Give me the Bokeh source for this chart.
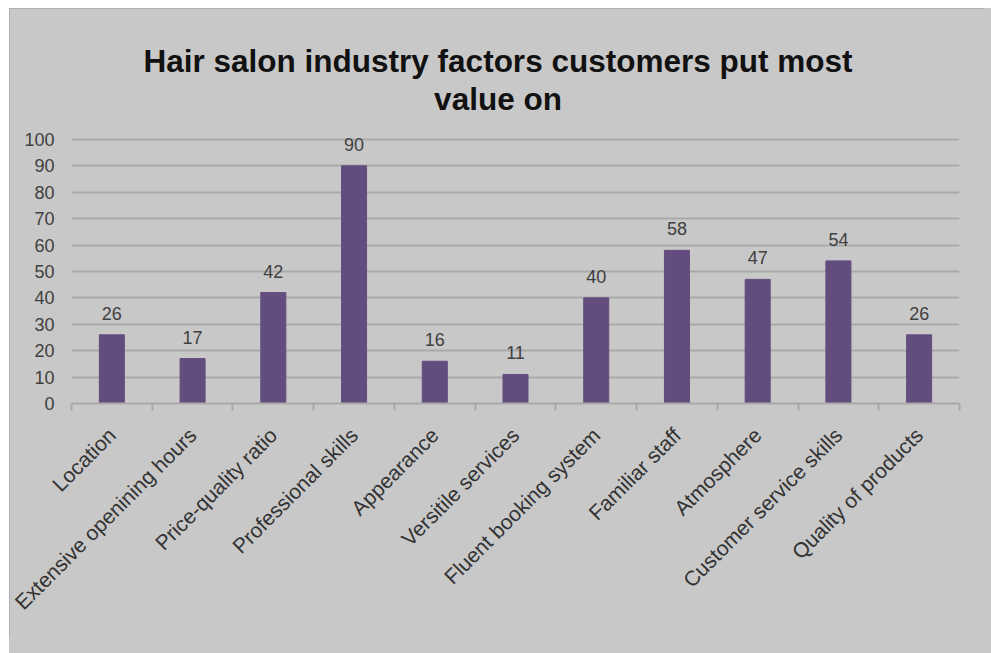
from bokeh.plotting import figure
from bokeh.models import ColumnDataSource, FixedTicker, LabelSet, Label, Spacer, Range1d
from bokeh.layouts import column, row
from bokeh.core.properties import value
from bokeh.embed import file_html
from bokeh.resources import INLINE
from math import pi

categories = ["Location", "Extensive openining hours", "Price-quality ratio",
              "Professional skills", "Appearance", "Versitile services",
              "Fluent booking system", "Familiar staff", "Atmosphere",
              "Customer service skills", "Quality of products"]
values = [26, 17, 42, 90, 16, 11, 40, 58, 47, 54, 26]
y_ticks = [0, 10, 20, 30, 40, 50, 60, 70, 80, 90, 100]
title_lines = ["Hair salon industry factors customers put most", "value on"]

BG = "#c8c8c8"
BAR = "#634d7f"
GRID = "#a9a9a9"
TXT = "#404040"
FONT = "Liberation Sans"

positions = [i + 0.5 for i in range(len(categories))]
src = ColumnDataSource(dict(x=positions, top=values, label=[str(v) for v in values]))

# frame reaches up into the title area so that labels are not clipped
p = figure(width=976, height=629, x_range=Range1d(0, len(categories)), y_range=Range1d(0, 142),
           output_backend="svg", toolbar_location=None,
           min_border_left=62, min_border_right=26, min_border_top=20, min_border_bottom=234,
           background_fill_color=BG, border_fill_color=BG, outline_line_color=None)
p.styles = {"outline": "2px solid #a9a9a9", "outline-offset": "-2px"}

p.vbar(x="x", top="top", width=0.31, source=src, fill_color=BAR, line_color=BAR)

p.add_layout(LabelSet(x="x", y="top", text="label", source=src, text_align="center",
                      text_baseline="alphabetic", y_offset=15, text_font_size="18px",
                      text_color=TXT, text_font=value(FONT)))

# x axis
p.xaxis.ticker = FixedTicker(ticks=positions, minor_ticks=list(range(len(categories) + 1)))
p.xaxis.major_label_overrides = {pos: cat for pos, cat in zip(positions, categories)}
p.xaxis.major_label_orientation = pi / 4
p.xaxis.major_tick_out = 0
p.xaxis.major_tick_in = 0
p.xaxis.minor_tick_out = 7
p.xaxis.minor_tick_in = 0
p.xaxis.minor_tick_line_color = GRID
p.xaxis.minor_tick_line_width = 2
p.xaxis.axis_line_color = GRID
p.xaxis.axis_line_width = 2
p.xaxis.major_label_standoff = 21
p.xaxis.major_label_text_font = FONT
p.xaxis.major_label_text_font_size = "21px"
p.xaxis.major_label_text_color = "#333333"

# y axis
p.yaxis.ticker = FixedTicker(ticks=y_ticks)
p.yaxis.axis_line_color = None
p.yaxis.major_tick_line_color = None
p.yaxis.minor_tick_line_color = None
p.yaxis.major_tick_out = 0
p.yaxis.major_tick_in = 0
p.yaxis.major_label_standoff = 17
p.yaxis.major_label_text_font = FONT
p.yaxis.major_label_text_font_size = "18px"
p.yaxis.major_label_text_color = TXT

p.xgrid.visible = False
p.ygrid.ticker = FixedTicker(ticks=y_ticks)
p.ygrid.grid_line_color = GRID
p.ygrid.grid_line_width = 2

# title (two lines)
p.add_layout(Label(x=426.5, y=343, x_units="screen", y_units="screen", text=title_lines[0],
                   text_align="center", text_baseline="alphabetic", text_font=FONT,
                   text_font_size="31.5px", text_font_style="bold", text_color="#111111"))
p.add_layout(Label(x=426.5, y=305, x_units="screen", y_units="screen", text=title_lines[1],
                   text_align="center", text_baseline="alphabetic", text_font=FONT,
                   text_font_size="31.5px", text_font_style="bold", text_color="#111111"))

white = {"background-color": "#ffffff"}
layout = column(Spacer(height=8, width=991, styles=white),
                row(Spacer(width=9, height=645, styles=white), p),
                styles={"background-color": BG})

open("out.html", "w").write(file_html(layout, INLINE))
